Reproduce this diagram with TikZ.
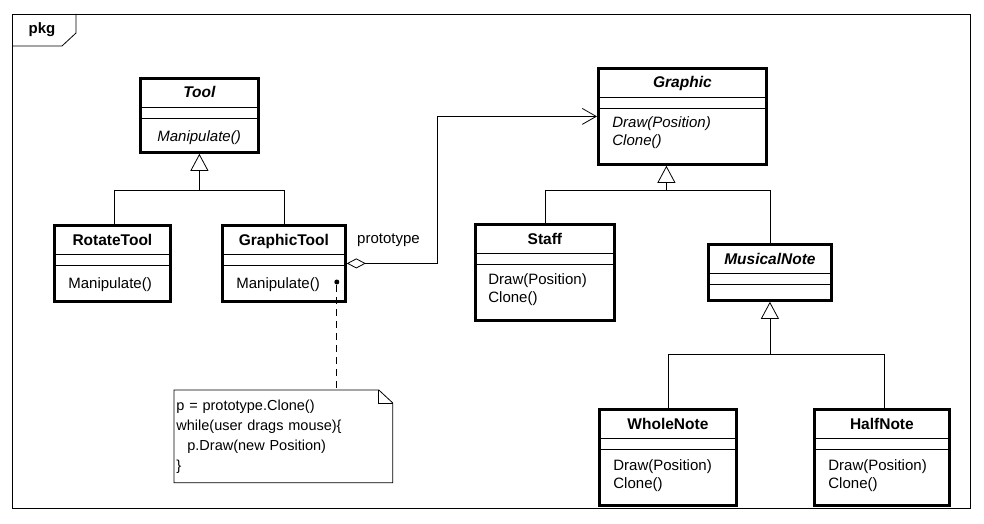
\documentclass[tikz,border=0pt]{standalone}
\usepackage{fontspec}
\setmainfont{Liberation Sans}
\usetikzlibrary{arrows.meta}

\begin{document}
\begin{tikzpicture}[
    x=1pt, y=-1pt,
    line width=0.8pt,
    every node/.style={font=\fontsize{15}{18}\selectfont},
    classbox/.style={draw, line width=2.8pt, anchor=north west, inner sep=0pt},
    classname/.style={font=\fontsize{15.5}{18}\selectfont\bfseries, inner sep=0pt, text height=11pt, text depth=3pt},
    ops/.style={anchor=north west, align=left, inner sep=0pt, execute at begin node=\strut},
    italicops/.style={ops, font=\fontsize{15}{18}\selectfont\itshape},
    inherit/.style={-{Triangle[open, length=17pt, width=18pt]}},
    aggregation/.style={{Diamond[open, length=19pt, width=10pt]}-{Straight Barb[length=14pt, width=16pt]}},
    notebox/.style={anchor=north west, minimum width=218pt, minimum height=92pt, text width=214pt, inner xsep=2pt, inner ysep=0pt, align=left, font=\fontsize{14.5}{20}\selectfont},
    notelink/.style={dash pattern=on 7pt off 5pt},
    dotnode/.style={circle, fill, inner sep=0pt, minimum size=5pt}
]
    \useasboundingbox (0,0) rectangle (984,524);

    % Package frame
    \node[draw, anchor=north west, minimum width=958pt, minimum height=494pt, inner sep=0pt] (frame) at (12,14) {};
    \node[anchor=base, font=\fontsize{15}{18}\selectfont\bfseries] (pkgname) at ([xshift=30pt, yshift=-20pt]frame.north west) {pkg};
    \draw ([xshift=64pt]frame.north west) -- ++(0,19) -- ++(-14,13) -- ++(-50,0);

    % Tool hierarchy
    \node[classbox, minimum width=118pt, minimum height=74pt] (tool) at (139,77) {};
    \node[classname] (toolname) at ([yshift=-17pt]tool.north) {\itshape Tool};
    \draw ([yshift=-30pt]tool.north west) -- ([yshift=-30pt]tool.north east) ([yshift=-41pt]tool.north west) -- ([yshift=-41pt]tool.north east);
    \node[italicops] (toolops) at ([xshift=18pt, yshift=-51pt]tool.north west) {Manipulate()};

    \node[classbox, minimum width=116pt, minimum height=76pt] (rotatetool) at (53,224) {};
    \node[classname] (rotatetoolname) at ([yshift=-17pt]rotatetool.north) {RotateTool};
    \draw ([yshift=-30pt]rotatetool.north west) -- ([yshift=-30pt]rotatetool.north east) ([yshift=-41pt]rotatetool.north west) -- ([yshift=-41pt]rotatetool.north east);
    \node[ops] (rotatetoolops) at ([xshift=15pt, yshift=-51pt]rotatetool.north west) {Manipulate()};

    \node[classbox, minimum width=123pt, minimum height=76pt] (graphictool) at (221,224) {};
    \node[classname] (graphictoolname) at ([yshift=-17pt]graphictool.north) {GraphicTool};
    \draw ([yshift=-30pt]graphictool.north west) -- ([yshift=-30pt]graphictool.north east) ([yshift=-41pt]graphictool.north west) -- ([yshift=-41pt]graphictool.north east);
    \node[ops] (graphictoolops) at ([xshift=15pt, yshift=-51pt]graphictool.north west) {Manipulate()};

    \coordinate (toolbus) at ([yshift=-37pt]tool.south);
    \draw[inherit] (toolbus) -- (tool.south);
    \draw ([xshift=2pt]rotatetool.north) |- (toolbus) -| (graphictool.north);

    % Graphic hierarchy
    \node[classbox, minimum width=168pt, minimum height=96pt] (graphic) at (597,67) {};
    \node[classname] (graphicname) at ([yshift=-17pt]graphic.north) {\itshape Graphic};
    \draw ([yshift=-30pt]graphic.north west) -- ([yshift=-30pt]graphic.north east) ([yshift=-41pt]graphic.north west) -- ([yshift=-41pt]graphic.north east);
    \node[italicops] (graphicops) at ([xshift=15pt, yshift=-49pt]graphic.north west) {Draw(Position)\\Clone()};

    \node[classbox, minimum width=139pt, minimum height=96pt] (staff) at (474,223) {};
    \node[classname] (staffname) at ([yshift=-17pt]staff.north) {Staff};
    \draw ([yshift=-30pt]staff.north west) -- ([yshift=-30pt]staff.north east) ([yshift=-41pt]staff.north west) -- ([yshift=-41pt]staff.north east);
    \node[ops] (staffops) at ([xshift=14pt, yshift=-50pt]staff.north west) {Draw(Position)\\Clone()};

    \node[classbox, minimum width=123pt, minimum height=56pt] (musicalnote) at (707,243) {};
    \node[classname] (musicalnotename) at ([yshift=-17pt]musicalnote.north) {\itshape MusicalNote};
    \draw ([yshift=-30pt]musicalnote.north west) -- ([yshift=-30pt]musicalnote.north east) ([yshift=-41pt]musicalnote.north west) -- ([yshift=-41pt]musicalnote.north east);

    \coordinate (graphicbus) at ([xshift=-16pt, yshift=-25pt]graphic.south);
    \draw[inherit] (graphicbus) -- (graphicbus |- graphic.south);
    \draw (staff.north) |- (graphicbus) -| (musicalnote.north);

    % Notes
    \node[classbox, minimum width=137pt, minimum height=96pt] (wholenote) at (598,408) {};
    \node[classname] (wholenotename) at ([yshift=-17pt]wholenote.north) {WholeNote};
    \draw ([yshift=-30pt]wholenote.north west) -- ([yshift=-30pt]wholenote.north east) ([yshift=-41pt]wholenote.north west) -- ([yshift=-41pt]wholenote.north east);
    \node[ops] (wholenoteops) at ([xshift=15pt, yshift=-51pt]wholenote.north west) {Draw(Position)\\Clone()};

    \node[classbox, minimum width=135pt, minimum height=96pt] (halfnote) at (813,408) {};
    \node[classname] (halfnotename) at ([yshift=-17pt]halfnote.north) {HalfNote};
    \draw ([yshift=-30pt]halfnote.north west) -- ([yshift=-30pt]halfnote.north east) ([yshift=-41pt]halfnote.north west) -- ([yshift=-41pt]halfnote.north east);
    \node[ops] (halfnoteops) at ([xshift=15pt, yshift=-51pt]halfnote.north west) {Draw(Position)\\Clone()};

    \coordinate (notebus) at ([yshift=-53pt]musicalnote.south);
    \draw[inherit] (notebus) -- (musicalnote.south);
    \draw (wholenote.north) |- (notebus) -| ([xshift=2pt]halfnote.north);

    % Prototype link
    \draw[aggregation] (graphictool.east) -- ++(91,0) |- (graphic.west);
    \node[anchor=base west, inner sep=0pt] (prototypelabel) at ([xshift=10pt, yshift=20pt]graphictool.east) {prototype};

    % Comment note
    \node[dotnode] (notedot) at ([xshift=-10pt, yshift=-58pt]graphictool.north east) {};
    \node[notebox] (note) at (174,390) {p = prototype.Clone()\\while(user drags mouse)\{\\\hspace*{11pt}p.Draw(new Position)\\\}};
    \draw (note.north west) -- ([xshift=-14pt]note.north east) -- ([yshift=-13pt]note.north east) -- (note.south east) -- (note.south west) -- cycle;
    \draw ([xshift=-14pt]note.north east) |- ([yshift=-13pt]note.north east);
    \draw[notelink] (notedot) -- (notedot |- note.north);

\end{tikzpicture}
\end{document}
